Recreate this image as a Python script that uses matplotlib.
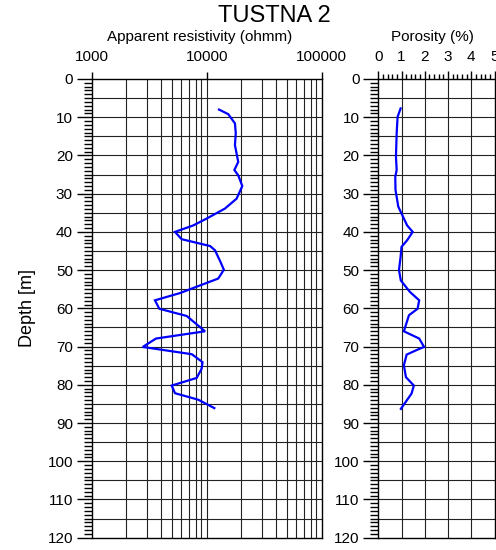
import numpy as np
import matplotlib
matplotlib.use("Agg")
import matplotlib.pyplot as plt
from matplotlib.ticker import FixedLocator, MultipleLocator, NullFormatter, FixedFormatter

plt.rcParams['font.family'] = ['Liberation Sans', 'DejaVu Sans']

# Apparent resistivity log (ohmm) versus depth (m)
res_depth = [8, 9.2, 11.6, 14.2, 17.3, 21.7, 23.8, 25.2, 28, 31.3, 33.9, 36.5, 38.3, 40,
             41.9, 43.7, 44.8, 47.9, 49.9, 52.2, 54, 56, 57.9, 60.1, 62, 66, 67.9, 70.1,
             72, 73.6, 74.1, 75.8, 78.2, 80.2, 82.2, 83.9, 86.1]
res_value = [12800, 15400, 17600, 17900, 17600, 18800, 17400, 18800, 20400, 18200, 14400,
             10000, 7650, 5300, 6050, 10700, 11800, 13200, 14100, 12600, 8760, 5860, 3550,
             3870, 6700, 9670, 3620, 2780, 7420, 8760, 9200, 9030, 8180, 4960, 5300, 8450,
             11650]

# Porosity log (%) versus depth (m)
por_depth = [7.7, 9.9, 14.2, 20.3, 23.8, 25.6, 29, 33.4, 36.5, 38.3, 40, 42.2, 43.9, 46.5,
             50, 52.7, 55.7, 57.9, 60.1, 61.8, 66, 67.9, 70.1, 70.8, 72.1, 74.9, 78, 80.2,
             82.3, 86.3]
por_value = [0.96, 0.83, 0.79, 0.76, 0.79, 0.73, 0.74, 0.86, 1.1, 1.24, 1.48, 1.24, 1.0,
             0.96, 0.89, 0.97, 1.36, 1.76, 1.69, 1.32, 1.1, 1.76, 1.97, 1.69, 1.22, 1.1,
             1.19, 1.53, 1.43, 0.97]

res_ticks = [1000, 10000, 100000]
res_tick_labels = ["1000", "10000", "100000"]
por_ticks = [0, 1, 2, 3, 4, 5]
depth_ticks = list(range(0, 121, 10))

W, H = 496, 550
fig = plt.figure(figsize=(W / 100, H / 100), dpi=100)


def frac_box(x0, x1, ytop, ybot):
    return [x0 / W, 1 - ybot / H, (x1 - x0) / W, (ybot - ytop) / H]


ax1 = fig.add_axes(frac_box(91.7, 321.7, 79, 537.7))
ax2 = fig.add_axes(frac_box(378.3, 494.5, 79, 537.7))

line_kw = dict(color='#0000ff', lw=1.6, solid_joinstyle='miter')
ax1.plot(res_value, res_depth, **line_kw)
ax2.plot(por_value, por_depth, **line_kw)

grid_kw = dict(color='#222222', lw=0.8)

for ax in (ax1, ax2):
    ax.set_ylim(120, 0)
    ax.yaxis.set_major_locator(FixedLocator(depth_ticks))
    ax.yaxis.set_minor_locator(MultipleLocator(1))
    ax.tick_params(axis='y', which='major', direction='out', length=10.5, width=1.0,
                   labelsize=11, pad=3, left=True, right=False)
    ax.tick_params(axis='y', which='minor', direction='out', length=6, width=1.0,
                   left=True, right=False)
    ax.xaxis.tick_top()
    for sp in ax.spines.values():
        sp.set_linewidth(1.0)
    for d in range(5, 120, 5):
        ax.axhline(d, **grid_kw, zorder=0.5)

# Resistivity panel: log scale, grid at every intermediate value of each decade
ax1.set_xscale('log')
ax1.set_xlim(1000, 100000)
ax1.xaxis.set_major_locator(FixedLocator(res_ticks))
ax1.xaxis.set_major_formatter(FixedFormatter(res_tick_labels))
ax1.xaxis.set_minor_locator(FixedLocator([]))
ax1.xaxis.set_minor_formatter(NullFormatter())
ax1.tick_params(axis='x', which='major', direction='out', length=5, width=1.0,
                labelsize=11, pad=6, top=True, bottom=False)
for dec in (1000, 10000):
    for m in range(2, 10):
        ax1.axvline(dec * m, **grid_kw, zorder=0.5)
ax1.axvline(10000, **grid_kw, zorder=0.5)

# Porosity panel: linear scale
ax2.set_xlim(0, 5)
ax2.xaxis.set_major_locator(FixedLocator(por_ticks))
ax2.xaxis.set_minor_locator(MultipleLocator(0.2))
ax2.tick_params(axis='x', which='major', direction='out', length=6, width=1.0,
                labelsize=11, pad=5, top=True, bottom=False)
ax2.tick_params(axis='x', which='minor', direction='out', length=3.5, width=1.0,
                top=True, bottom=False)
for p in (1, 2, 3, 4):
    ax2.axvline(p, **grid_kw, zorder=0.5)

ax1.set_ylabel("Depth [m]", fontsize=13, labelpad=8)

fig.text(274 / W, 1 - 15.5 / H, "TUSTNA 2", fontsize=17, ha='center', va='center')
fig.text(200 / W, 1 - 36.7 / H, "Apparent resistivity (ohmm)", fontsize=11,
         ha='center', va='center')
fig.text(432.5 / W, 1 - 36.7 / H, "Porosity (%)", fontsize=11, ha='center', va='center')

fig.savefig("out.png", dpi=100)
